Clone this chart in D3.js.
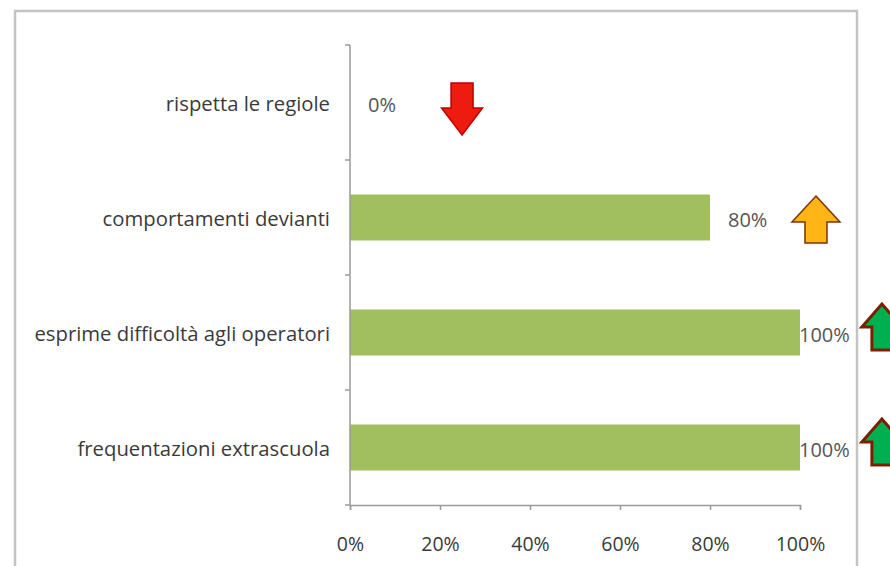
<!DOCTYPE html>
<html><head><meta charset="utf-8">
<script src="https://cdn.jsdelivr.net/npm/d3@7"></script>
<style>body{margin:0;background:#fff}svg{display:block}text{font-family:"Open Sans",Lato,sans-serif}</style>
</head><body><svg id="c" width="890" height="566"></svg>
<script>
const categories = ["rispetta le regiole","comportamenti devianti","esprime difficoltà agli operatori","frequentazioni extrascuola"];
const values = [0, 0.8, 1, 1];
const valueLabels = ["0%","80%","100%","100%"];
const tickValues = [0, 0.2, 0.4, 0.6, 0.8, 1];
const arrowDirections = ["down","up","up","up"];
const arrowFills = ["#ee1c10","#ffb515","#00b050","#00b050"];
const arrowStrokes = ["#c00000","#7a3300","#7a2000","#7a2000"];
const arrowAt = [0.249, 1.0355, 1.182, 1.182];

const svg = d3.select("#c");
const font = "'Open Sans',Lato,sans-serif";
// frame
svg.append("rect").attr("x",15).attr("y",11).attr("width",842).attr("height",600)
  .attr("fill","#fff").attr("stroke","#c4c4c4").attr("stroke-width",2.5);

const x = d3.scaleLinear().domain([0,1]).range([350,800]);
const y = d3.scaleBand().domain(categories).range([45,505]).paddingInner(0.6).paddingOuter(0.3);

// bars
svg.selectAll("rect.bar").data(categories).join("rect").attr("class","bar")
  .attr("x",x(0)).attr("y",d=>y(d)).attr("width",(d,i)=>x(values[i])-x(0)).attr("height",y.bandwidth())
  .attr("fill","#a2bf60");

// y axis line + ticks at band boundaries
const axColor = "#9a9a9a";
svg.append("line").attr("x1",x(0)).attr("x2",x(0)).attr("y1",45).attr("y2",505).attr("stroke",axColor).attr("stroke-width",1.5);
const step = y.step();
const bounds = d3.range(categories.length+1).map(i=>45+i*step);
svg.selectAll("line.yt").data(bounds).join("line").attr("class","yt")
  .attr("x1",x(0)-5).attr("x2",x(0)).attr("y1",d=>d).attr("y2",d=>d).attr("stroke",axColor).attr("stroke-width",1.5);

// category labels
svg.selectAll("text.cat").data(categories).join("text").attr("class","cat")
  .attr("x",330).attr("y",d=>y(d)+y.bandwidth()/2+1).attr("dy","0.35em").attr("text-anchor","end")
  .attr("font-size",20.3).attr("fill","#3a3a3a").text(d=>d);

// x axis
const xAxis = d3.axisBottom(x).tickValues(tickValues).tickFormat(d3.format(".0%")).tickSize(5).tickPadding(27);
const gx = svg.append("g").attr("transform","translate(0,505)").call(xAxis);
gx.select(".domain").attr("stroke",axColor).attr("stroke-width",1.5);
gx.selectAll(".tick line").attr("stroke",axColor).attr("stroke-width",1.5);
gx.selectAll(".tick text").attr("font-size",19.5).attr("fill","#3a3a3a").attr("font-family",font);

// value labels
svg.selectAll("text.val").data(categories).join("text").attr("class","val")
  .attr("x",(d,i)=>x(values[i]) + (values[i]>=1 ? -1 : 18)).attr("y",d=>y(d)+y.bandwidth()/2+2).attr("dy","0.35em")
  .attr("font-size",20).attr("fill","#555").text((d,i)=>valueLabels[i]);

// arrows
const arrowGeom = [
  {dy:3.5, h:52, hw:20.5, sw:11, hh:27},
  {dy:1.5, h:47, hw:24, sw:11, hh:26},
  {dy:-5.5, h:46, hw:20, sw:10, hh:23},
  {dy:-5.5, h:46, hw:20, sw:10, hh:23}
];
function arrowPath(cx, top, g, dir){
  const {h, hw, sw, hh} = g;
  if(dir==="up"){
    return `M${cx},${top} L${cx+hw},${top+hh} L${cx+sw},${top+hh} L${cx+sw},${top+h} L${cx-sw},${top+h} L${cx-sw},${top+hh} L${cx-hw},${top+hh} Z`;
  }
  const b = top+h;
  return `M${cx},${b} L${cx+hw},${b-hh} L${cx+sw},${b-hh} L${cx+sw},${top} L${cx-sw},${top} L${cx-sw},${b-hh} L${cx-hw},${b-hh} Z`;
}
svg.selectAll("path.arrow").data(categories).join("path").attr("class","arrow")
  .attr("d",(d,i)=>arrowPath(x(arrowAt[i]), y(d)+arrowGeom[i].dy, arrowGeom[i], arrowDirections[i]))
  .attr("fill",(d,i)=>arrowFills[i]).attr("stroke",(d,i)=>arrowStrokes[i])
  .attr("stroke-width",(d,i)=>i>=2?3:1.5).attr("stroke-linejoin","miter");
</script></body></html>
